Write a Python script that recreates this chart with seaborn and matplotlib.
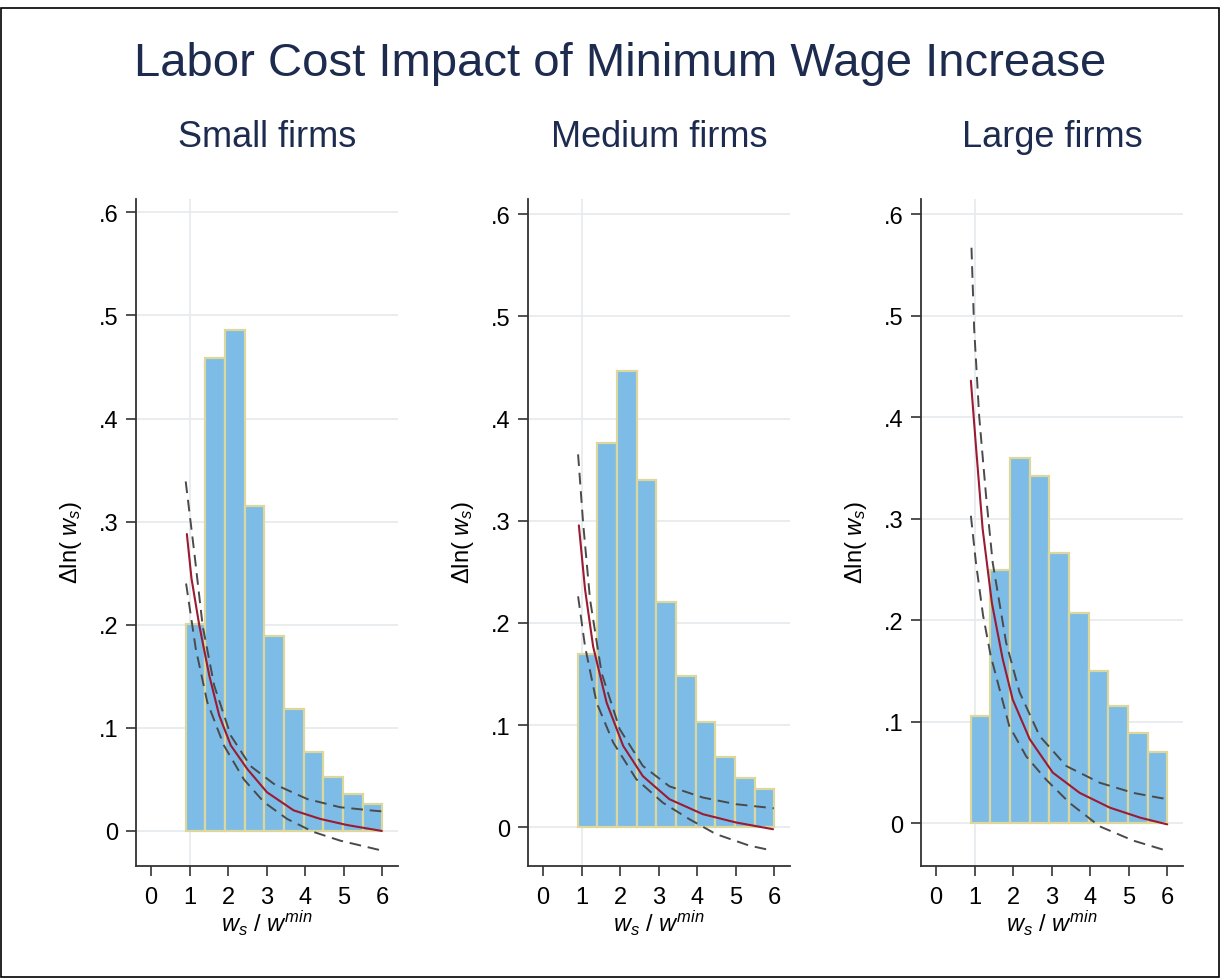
import numpy as np
import pandas as pd
import seaborn as sns
import matplotlib
matplotlib.use("Agg")
import matplotlib.pyplot as plt
from matplotlib.patches import Rectangle

sns.set_style("white")
plt.rcParams['font.family'] = ['Liberation Sans', 'DejaVu Sans']
plt.rcParams['mathtext.fontset'] = 'custom'
plt.rcParams['mathtext.rm'] = 'Liberation Sans'
plt.rcParams['mathtext.it'] = 'Liberation Sans:italic'

# ---- data ----
panels = ['Small firms', 'Medium firms', 'Large firms']
bin_start = 0.9
bin_width = 0.51

small_bars = [0.201, 0.459, 0.486, 0.315, 0.189, 0.118, 0.077, 0.052, 0.036, 0.026]
medium_bars = [0.170, 0.376, 0.447, 0.340, 0.220, 0.148, 0.103, 0.069, 0.048, 0.037]
large_bars = [0.106, 0.250, 0.360, 0.342, 0.266, 0.207, 0.150, 0.116, 0.089, 0.070]

# fitted effect (solid) and confidence band (dashed)
small_fit_x = [0.93, 1.05, 1.25, 1.51, 1.77, 2.07, 2.50, 3.01, 3.70, 4.39, 5.08, 5.99]
small_fit_y = [0.288, 0.245, 0.200, 0.151, 0.112, 0.083, 0.060, 0.0375, 0.020, 0.0117, 0.0058, 0.0]
small_hi_x = [0.90, 1.12, 1.34, 1.64, 2.07, 2.58, 3.19, 4.05, 4.91, 5.77, 5.99]
small_hi_y = [0.339, 0.271, 0.199, 0.141, 0.0925, 0.063, 0.0456, 0.031, 0.023, 0.0197, 0.019]
small_lo_x = [0.91, 1.16, 1.46, 1.89, 2.41, 2.93, 3.53, 4.22, 4.91, 5.99]
small_lo_y = [0.240, 0.177, 0.125, 0.083, 0.050, 0.028, 0.0117, -0.001, -0.0094, -0.019]

medium_fit_x = [0.93, 1.09, 1.30, 1.65, 2.08, 2.59, 3.28, 4.15, 5.01, 5.97]
medium_fit_y = [0.2955, 0.233, 0.177, 0.122, 0.0796, 0.050, 0.0274, 0.0127, 0.0046, -0.002]
medium_hi_x = [0.91, 1.04, 1.22, 1.52, 1.99, 2.59, 3.28, 4.15, 5.01, 5.87, 5.99]
medium_hi_y = [0.365, 0.298, 0.223, 0.151, 0.096, 0.060, 0.040, 0.029, 0.0225, 0.019, 0.0185]
medium_lo_x = [0.91, 1.09, 1.39, 1.82, 2.42, 3.11, 3.80, 4.49, 5.35, 5.96]
medium_lo_y = [0.226, 0.177, 0.122, 0.083, 0.047, 0.024, 0.0078, -0.0068, -0.018, -0.023]

large_fit_x = [0.905, 1.035, 1.21, 1.45, 1.73, 1.99, 2.43, 3.03, 3.73, 4.51, 5.30, 6.0]
large_fit_y = [0.436, 0.372, 0.290, 0.217, 0.162, 0.122, 0.083, 0.050, 0.030, 0.0155, 0.0056, -0.001]
large_hi_x = [0.92, 0.99, 1.12, 1.30, 1.47, 1.82, 2.17, 2.69, 3.38, 4.25, 5.12, 5.82, 5.99]
large_hi_y = [0.567, 0.487, 0.401, 0.322, 0.257, 0.178, 0.129, 0.086, 0.0565, 0.040, 0.030, 0.025, 0.024]
large_lo_x = [0.905, 1.035, 1.22, 1.42, 1.90, 2.34, 2.86, 3.47, 4.25, 5.12, 5.99]
large_lo_y = [0.303, 0.257, 0.205, 0.165, 0.096, 0.066, 0.043, 0.020, -0.003, -0.017, -0.027]

ytick_vals = [0, 0.1, 0.2, 0.3, 0.4, 0.5, 0.6]
ytick_labels = ['0', '.1', '.2', '.3', '.4', '.5', '.6']
xtick_vals = [0, 1, 2, 3, 4, 5, 6]

series = [
    (small_bars, small_fit_x, small_fit_y, small_hi_x, small_hi_y, small_lo_x, small_lo_y),
    (medium_bars, medium_fit_x, medium_fit_y, medium_hi_x, medium_hi_y, medium_lo_x, medium_lo_y),
    (large_bars, large_fit_x, large_fit_y, large_hi_x, large_hi_y, large_lo_x, large_lo_y),
]
ylims = [(-0.034, 0.613), (-0.038, 0.615), (-0.042, 0.615)]
lefts_px = [136, 528, 921]

W, H = 1221, 979
fig = plt.figure(figsize=(W / 100, H / 100), dpi=100)
navy = '#1d2b4f'
bar_fill = '#7dbce6'
bar_edge = '#dcd79c'
grid_c = '#e6eaed'
band_c = '#4a4a4a'

fig.text(620 / W, 1 - 64 / H, 'Labor Cost Impact of Minimum Wage Increase',
         ha='center', va='center', fontsize=34, color=navy)

for i, (bars, fx, fy, hx, hy, lx, ly) in enumerate(series):
    ax = fig.add_axes([lefts_px[i] / W, 1 - 867 / H, 262 / W, 667 / H])
    edges = [bin_start + bin_width * k for k in range(len(bars) + 1)]
    hist_df = pd.DataFrame({'mid': [e + bin_width / 2 for e in edges[:-1]], 'h': bars})

    for yv in ytick_vals:
        ax.axhline(yv, color=grid_c, lw=1.2, zorder=0)
    ax.axvline(1, color=grid_c, lw=1.2, zorder=0)

    sns.histplot(data=hist_df, x='mid', weights='h', bins=edges, ax=ax, color=bar_fill,
                 edgecolor=bar_edge, linewidth=1.6, alpha=1, zorder=2)
    sns.lineplot(x=hx, y=hy, ax=ax, color=band_c, lw=1.4,
                 linestyle=(0, (6, 3.5)), zorder=3)
    sns.lineplot(x=lx, y=ly, ax=ax, color=band_c, lw=1.4,
                 linestyle=(0, (6, 3.5)), zorder=3)
    sns.lineplot(x=fx, y=fy, ax=ax, color='#9a1b32', lw=1.5, zorder=4)

    ax.set_xlim(-0.39, 6.41)
    ax.set_ylim(*ylims[i])
    ax.set_xticks(xtick_vals)
    ax.set_yticks(ytick_vals)
    ax.set_yticklabels(ytick_labels)
    ax.tick_params(axis='both', labelsize=17, length=7, width=1.2, bottom=True, left=True,
                   color='#333333', labelcolor='black', direction='out')
    ax.tick_params(axis='x', pad=7.5)
    ax.tick_params(axis='y', pad=5.5)
    for s in ['top', 'right']:
        ax.spines[s].set_visible(False)
    for s in ['left', 'bottom']:
        ax.spines[s].set_color('#333333')
        ax.spines[s].set_linewidth(1.3)

    ax.set_ylabel('Δln( $w_s$)', fontsize=17, color='black')
    ax.yaxis.set_label_coords(-0.198, 0.487)
    ax.set_xlabel('$w_s$ / $w^{min}$', fontsize=17, color='black')
    ax.xaxis.set_label_coords(0.5, -0.0615)

    ax.text(0.5, 1.093, panels[i], transform=ax.transAxes, ha='center',
            va='center', fontsize=26, color=navy)

fig.patches.append(Rectangle((0.001, 0.001), 0.997, 0.990, transform=fig.transFigure,
                             fill=False, ec='black', lw=1.2))
fig.savefig('out.png', dpi=100)
